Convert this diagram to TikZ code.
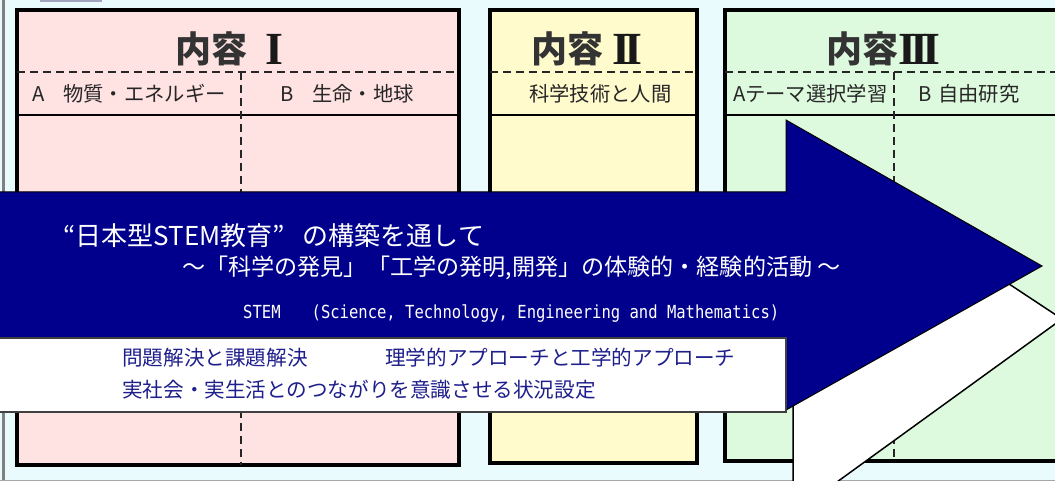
\documentclass[tikz,border=0pt]{standalone}
\usepackage{fontspec}
\usepackage{graphicx}
\setmainfont{Noto Sans CJK JP}
\newfontfamily\numfont{Liberation Serif}
\newfontfamily\monofont{DejaVu Sans Mono}
\definecolor{bgcyan}{RGB}{234,251,253}
\definecolor{pinkfill}{RGB}{255,226,226}
\definecolor{yellowfill}{RGB}{255,251,205}
\definecolor{greenfill}{RGB}{222,250,222}
\definecolor{arrownavy}{RGB}{0,0,140}
\definecolor{boxtextblue}{RGB}{30,30,140}
\definecolor{tabgray}{RGB}{160,164,188}
\tikzset{
  contentbox/.style={draw=black, line width=3.5pt},
  dashsep/.style={draw=black!85, line width=1.8pt, dash pattern=on 8pt off 5pt},
  solidsep/.style={draw=black, line width=2pt},
  titletext/.style={inner sep=0pt, anchor=base west, font=\bfseries\fontsize{36}{40}\selectfont, text=black!80},
  numeraltext/.style={inner sep=0pt, anchor=base west, font=\numfont\bfseries\fontsize{46}{50}\selectfont, text=black!90},
  rowtext/.style={inner sep=0pt, anchor=base west, font=\fontsize{20.3}{24}\selectfont, text=black!85},
  arrowtext/.style={inner sep=0pt, anchor=base west, text=white},
  notetext/.style={inner sep=0pt, anchor=base west, font=\fontsize{20.6}{25}\selectfont, text=boxtextblue},
}
\begin{document}
\begin{tikzpicture}[x=1pt,y=-1pt]
\useasboundingbox (0,0) rectangle (1055,481);
\clip (0,0) rectangle (1055,481);
% background
\fill[bgcyan] (0,0) rectangle (1055,481);
\fill[tabgray] (40,-1) rectangle (102,2.5);
\draw[black!50, line width=2.5pt] (3.5,0) -- (3.5,481);
\draw[black!35, line width=1.5pt] (0,480.5) -- (1055,480.5);

% box I
\filldraw[contentbox, fill=pinkfill] (17,10) rectangle (459,465);
\draw[dashsep] (17,72) -- (459,72);
\draw[solidsep] (17,115) -- (459,115);
\draw[dashsep] (241,72) -- (241,465);
% box II
\filldraw[contentbox, fill=yellowfill] (490,10) rectangle (697,463);
\draw[dashsep] (490,72) -- (697,72);
\draw[solidsep] (490,115) -- (697,115);
% box III
\filldraw[contentbox, fill=greenfill] (725,10) rectangle (1075,461);
\draw[dashsep] (725,72) -- (1075,72);
\draw[solidsep] (725,115) -- (1075,115);
\draw[dashsep] (894,72) -- (894,461);

% titles
\node[titletext] (t1) at (175,63) {内容};
\node[numeraltext] (n1) at (265,65) {I};
\node[titletext] (t2) at (531,63) {内容};
\node[numeraltext] (n2) at (612,65) {I\kern-6pt I};
\node[titletext] (t3) at (826,63) {内容};
\node[numeraltext] (n3) at (898,65) {I\kern-6pt I\kern-6pt I};

% row labels
\node[rowtext] (r1a) at (32,102) {A};
\node[rowtext] (r1b) at (63,102) {物質・エネルギー};
\node[rowtext] (r1c) at (280,102) {B};
\node[rowtext] (r1d) at (312,102) {生命・地球};
\node[rowtext] (r2a) at (529,102) {科学技術と人間};
\node[rowtext] (r3a) at (733,102) {A};
\node[rowtext] (r3b) at (745,102) {テーマ選択学習};
\node[rowtext] (r3c) at (918,102) {B};
\node[rowtext] (r3d) at (938,102) {自由研究};

% white band behind the arrow
\filldraw[fill=white, draw=black, line width=1.5pt]
  (793,495) -- (793,400) -- (1000,278) -- (1062,319) -- (819,495) -- cycle;

% main navy arrow
\filldraw[fill=arrownavy, draw=black, line width=1pt]
  (-5,192) -- (786,192) -- (786,120) -- (1042,266) -- (786,410) -- (786,340) -- (-5,340) -- cycle;

% white note box
\filldraw[fill=white, draw=black!75, line width=1.2pt] (-5,338) rectangle (786,412);

% arrow texts
\node[arrowtext, font=\fontsize{26}{30}\selectfont] (l1) at (63,246)
  {“日本型STEM教育”\hspace{0.7em}の構築を通して};
\node[arrowtext, font=\fontsize{23.1}{27}\selectfont] (l2) at (182,275)
  {～「科学の発見」「工学の発明,開発」の体験的・経験的活動 ～};
\node[arrowtext, font=\monofont\fontsize{18}{21}\selectfont] (l3) at (243,318)
  {\scalebox{0.863}[1]{STEM\hspace{2em}(Science, Technology, Engineering and Mathematics)}};

% note texts
\node[notetext] (p1) at (122,365) {問題解決と課題解決};
\node[notetext] (p2) at (385,365) {理学的アプローチと工学的アプローチ};
\node[notetext] (p3) at (122,397) {実社会・実生活とのつながりを意識させる状況設定};
\end{tikzpicture}
\end{document}
